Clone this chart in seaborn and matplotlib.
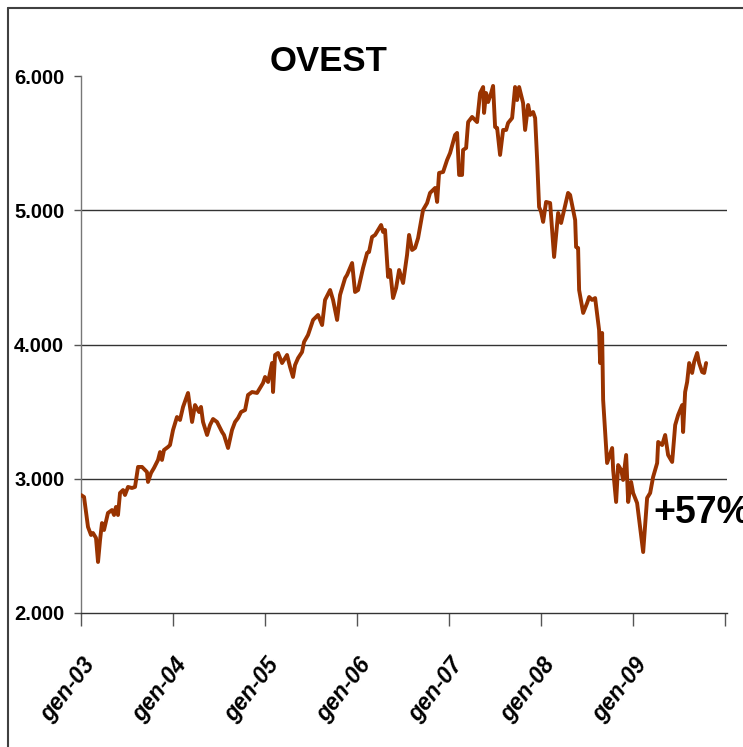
import matplotlib
matplotlib.use("Agg")
import matplotlib.pyplot as plt
import matplotlib.transforms as mtransforms
from matplotlib.lines import Line2D
import seaborn as sns
import pandas as pd

# decimal year of each observation
years = [
    2003.000, 2003.033, 2003.076, 2003.109, 2003.130, 2003.163, 2003.185, 2003.207, 2003.228, 2003.250,
    2003.293, 2003.337, 2003.359, 2003.380, 2003.402, 2003.424, 2003.457, 2003.478, 2003.511, 2003.554,
    2003.587, 2003.620, 2003.663, 2003.717, 2003.728, 2003.761, 2003.793, 2003.837, 2003.859, 2003.880,
    2003.902, 2003.946, 2003.967, 2004.000, 2004.043, 2004.076, 2004.109, 2004.163, 2004.207, 2004.239,
    2004.283, 2004.304, 2004.326, 2004.370, 2004.402, 2004.435, 2004.478, 2004.533, 2004.554, 2004.598,
    2004.641, 2004.674, 2004.707, 2004.739, 2004.783, 2004.815, 2004.859, 2004.913, 2004.946, 2004.978,
    2005.000, 2005.033, 2005.076, 2005.087, 2005.109, 2005.141, 2005.185, 2005.239, 2005.272, 2005.304,
    2005.326, 2005.359, 2005.402, 2005.424, 2005.467, 2005.522, 2005.576, 2005.620, 2005.652, 2005.707,
    2005.739, 2005.783, 2005.815, 2005.870, 2005.891, 2005.946, 2005.978, 2006.011, 2006.065, 2006.109,
    2006.130, 2006.163, 2006.196, 2006.228, 2006.261, 2006.283, 2006.304, 2006.337, 2006.359, 2006.391,
    2006.424, 2006.457, 2006.500, 2006.543, 2006.565, 2006.598, 2006.630, 2006.663, 2006.717, 2006.761,
    2006.793, 2006.848, 2006.870, 2006.891, 2006.935, 2006.978, 2007.011, 2007.065, 2007.087, 2007.109,
    2007.141, 2007.152, 2007.185, 2007.207, 2007.250, 2007.304, 2007.337, 2007.370, 2007.380, 2007.402,
    2007.424, 2007.457, 2007.478, 2007.500, 2007.522, 2007.554, 2007.587, 2007.620, 2007.641, 2007.685,
    2007.717, 2007.739, 2007.761, 2007.804, 2007.826, 2007.859, 2007.880, 2007.913, 2007.935, 2007.957,
    2007.978, 2008.000, 2008.022, 2008.054, 2008.098, 2008.141, 2008.185, 2008.217, 2008.293, 2008.315,
    2008.370, 2008.380, 2008.402, 2008.413, 2008.457, 2008.500, 2008.522, 2008.554, 2008.587, 2008.630,
    2008.641, 2008.663, 2008.674, 2008.717, 2008.772, 2008.783, 2008.815, 2008.837, 2008.870, 2008.891,
    2008.924, 2008.946, 2008.978, 2009.000, 2009.043, 2009.109, 2009.152, 2009.185, 2009.217, 2009.261,
    2009.272, 2009.315, 2009.348, 2009.380, 2009.424, 2009.457, 2009.489, 2009.533, 2009.543, 2009.565,
    2009.587, 2009.609, 2009.641, 2009.663, 2009.696, 2009.717, 2009.750, 2009.772, 2009.793,
]

# index level
values = [
    2879, 2864, 2641, 2581, 2596, 2559, 2380, 2544, 2670, 2618,
    2745, 2767, 2730, 2790, 2730, 2894, 2916, 2879, 2939, 2931,
    2939, 3088, 3088, 3050, 2976, 3043, 3080, 3140, 3199, 3140,
    3214, 3237, 3251, 3363, 3460, 3438, 3535, 3639, 3423, 3549,
    3497, 3535, 3423, 3326, 3400, 3445, 3423, 3348, 3326, 3229,
    3363, 3423, 3453, 3497, 3512, 3624, 3646, 3639, 3676, 3713,
    3758, 3721, 3862, 3646, 3922, 3937, 3862, 3922, 3832, 3758,
    3847, 3899, 3944, 4019, 4071, 4183, 4220, 4145, 4332, 4406,
    4332, 4183, 4369, 4495, 4518, 4607, 4391, 4406, 4570, 4682,
    4689, 4801, 4816, 4853, 4890, 4838, 4853, 4503, 4555, 4346,
    4421, 4555, 4458, 4667, 4816, 4704, 4719, 4793, 5002, 5054,
    5129, 5166, 5062, 5278, 5285, 5374, 5427, 5561, 5576, 5263,
    5263, 5449, 5464, 5657, 5695, 5657, 5873, 5918, 5725, 5873,
    5806, 5873, 5926, 5620, 5613, 5412, 5598, 5598, 5650, 5687,
    5918, 5821, 5918, 5799, 5598, 5784, 5710, 5732, 5687, 5374,
    5024, 4987, 4913, 5062, 5054, 4652, 4980, 4905, 5129, 5114,
    4927, 4726, 4719, 4406, 4235, 4309, 4354, 4332, 4346, 4108,
    3862, 4086, 3587, 3117, 3229, 3065, 2827, 3102, 3065, 2991,
    3177, 2827, 2976, 2894, 2819, 2454, 2857, 2894, 3013, 3117,
    3274, 3251, 3326, 3177, 3125, 3400, 3475, 3549, 3348, 3646,
    3721, 3862, 3788, 3870, 3937, 3862, 3795, 3788, 3862,
]

tick_years = [2003, 2004, 2005, 2006, 2007, 2008, 2009, 2010]
tick_labels = ["gen-03", "gen-04", "gen-05", "gen-06", "gen-07", "gen-08", "gen-09", ""]
y_ticks = [2000, 3000, 4000, 5000, 6000]
y_labels = ["2.000", "3.000", "4.000", "5.000", "6.000"]
title = "OVEST"
annotation = "+57%"

df = pd.DataFrame({"anno": years, "valore": values})

sns.set_style("white")
plt.rcParams["font.family"] = ["Liberation Sans", "DejaVu Sans"]
plt.rcParams["text.color"] = "black"
plt.rcParams["xtick.color"] = "black"
plt.rcParams["ytick.color"] = "black"

fig = plt.figure(figsize=(7.43, 7.47), dpi=100)
ax = fig.add_axes([81 / 743, 1 - 613 / 747, (727 - 81) / 743, (613 - 76) / 747])

for y in [3000, 4000, 5000]:
    ax.axhline(y, color="#333333", lw=1.0, zorder=1)

sns.lineplot(data=df, x="anno", y="valore", ax=ax, color="#993300", lw=2.8,
             zorder=3, estimator=None, sort=False)

ax.set_xlim(2003, 2010.02)
ax.set_ylim(2000, 6000)
ax.set_xlabel("")
ax.set_ylabel("")

ax.set_yticks(y_ticks)
ax.set_yticklabels(y_labels, fontsize=14.5, fontweight="bold", color="black")
ax.set_xticks(tick_years)
ax.set_xticklabels(tick_labels, fontsize=16.5, fontweight="bold", fontstyle="italic", color="black",
                   rotation=52, ha="right", va="top", rotation_mode="anchor")
offset = mtransforms.ScaledTranslation(6 / 100, 0, fig.dpi_scale_trans)
for lab in ax.get_xticklabels():
    lab.set_transform(lab.get_transform() + offset)

ax.tick_params(axis="y", direction="out", length=5, width=1, color="#555555", pad=7, left=True)
ax.tick_params(axis="x", direction="out", length=9, width=1, color="#555555", pad=20, bottom=True)

for s in ["top", "right"]:
    ax.spines[s].set_visible(False)
ax.spines["left"].set_color("#777777")
ax.spines["left"].set_linewidth(1.0)
ax.spines["bottom"].set_color("#333333")
ax.spines["bottom"].set_linewidth(1.0)

fig.text(270 / 743, 1 - 71 / 747, title, fontsize=25, fontweight="bold", color="black",
         ha="left", va="baseline")
ax.text(2009.22, 2670, annotation, fontsize=27, fontweight="bold", color="black",
        ha="left", va="baseline", clip_on=False, zorder=4)

# outer frame
fig.add_artist(Line2D([8 / 743, 1], [1 - 8 / 747, 1 - 8 / 747], transform=fig.transFigure,
                      color="#404040", lw=1.5))
fig.add_artist(Line2D([8 / 743, 8 / 743], [0, 1 - 8 / 747], transform=fig.transFigure,
                      color="#404040", lw=1.5))

fig.savefig("out.png", dpi=100)
